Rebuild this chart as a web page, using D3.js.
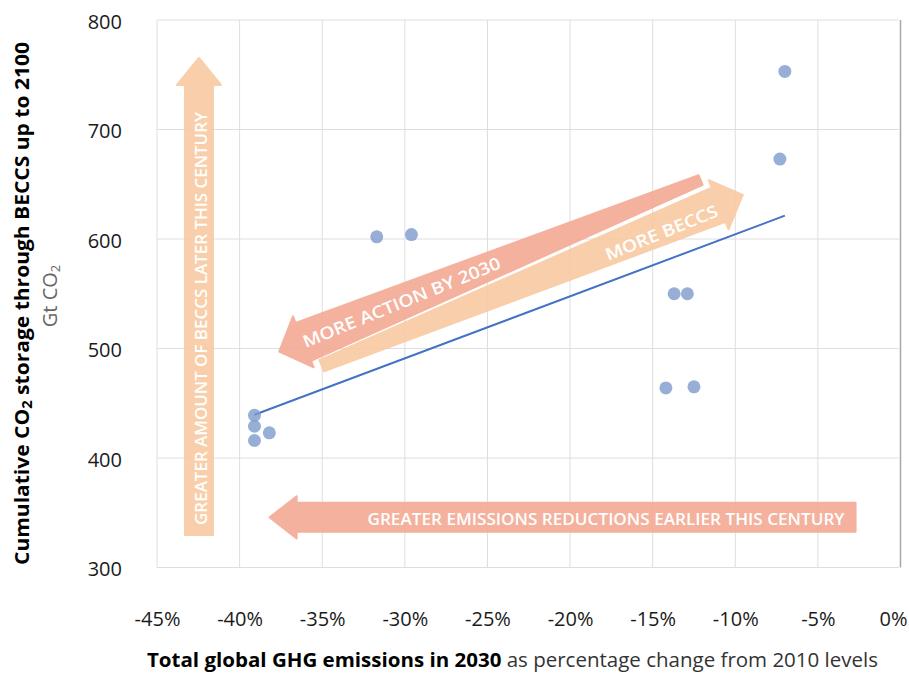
<!DOCTYPE html>
<html>
<head>
<meta charset="utf-8">
<script src="https://cdn.jsdelivr.net/npm/d3@7"></script>
<style>
  body { margin: 0; background: #fff; }
  svg text { font-family: "Open Sans", "Noto Sans", sans-serif; }
</style>
</head>
<body>
<svg id="chart"></svg>
<script>
// Scenario values
const emissionsChange2030 = [-39.1, -39.1, -39.1, -38.2, -31.7, -29.6, -13.7, -12.9, -14.2, -12.5, -7.3, -7.0];
const beccsStorage2100 = [439, 429, 416, 423, 602, 604, 550, 550, 464, 465, 673, 753];

// Trend line end points
const trendEmissions = [-39.1, -7.0];
const trendStorage = [439.5, 621.3];

const xTickValues = [-45, -40, -35, -30, -25, -20, -15, -10, -5, 0];
const yTickValues = [300, 400, 500, 600, 700, 800];

// Annotation arrows, anchored in data units (tail -> tip)
const arrowNotes = [
    { label: 'GREATER AMOUNT OF BECCS LATER THIS CENTURY', tail: [-42.46, 329.7], tip: [-42.46, 765.3],
      w0: 28, w1: 28, head: 27, headW: 44, fill: '#f8cba3', at: 0.454, shift: 2.5, len: 413, size: 16 },
    { label: 'GREATER EMISSIONS REDUCTIONS EARLIER THIS CENTURY', tail: [-2.72, 345.8], tip: [-38.18, 345.8],
      w0: 29, w1: 29, head: 27, headW: 42, fill: '#f4ab95', at: 0.426, shift: 1.6, len: 477, size: 17 },
    { label: 'MORE ACTION BY 2030', tail: [-12.1, 653.9], tip: [-37.6, 497.1],
      w0: 10.5, w1: 41, head: 26, headW: 55, fill: '#f4ab95', at: 0.71, shift: 0, len: 212, size: 17 },
    { label: 'MORE BECCS', tail: [-35.03, 484.2], tip: [-9.55, 640.2],
      w0: 12, w1: 37, head: 26, headW: 53, fill: '#f8cba3', at: 0.803, shift: 4, len: 120, size: 17 }
];

class BeccsScatter {

    constructor(_config) {
        this.config = {
            parentElement: _config.parentElement,
            width: _config.width || 909,
            height: _config.height || 673,
            margin: _config.margin || { top: 20, right: 8.5, bottom: 105.5, left: 157 }
        };
        this.initVis();
    }

    initVis() {
        let vis = this;
        const m = vis.config.margin;
        vis.innerWidth = vis.config.width - m.left - m.right;
        vis.innerHeight = vis.config.height - m.top - m.bottom;

        vis.svg = d3.select(vis.config.parentElement)
            .attr('width', vis.config.width)
            .attr('height', vis.config.height);

        vis.chart = vis.svg.append('g')
            .attr('transform', `translate(${m.left},${m.top})`);

        vis.xScale = d3.scaleLinear().domain([-45, 0]).range([0, vis.innerWidth]);
        vis.yScale = d3.scaleLinear().domain([300, 800]).range([vis.innerHeight, 0]);

        vis.renderVis();
    }

    // tapered arrow outline in pixel space
    arrowPath(a) {
        let vis = this;
        const x0 = vis.xScale(a.tail[0]), y0 = vis.yScale(a.tail[1]);
        const x1 = vis.xScale(a.tip[0]), y1 = vis.yScale(a.tip[1]);
        const L = Math.hypot(x1 - x0, y1 - y0);
        const ux = (x1 - x0) / L, uy = (y1 - y0) / L;
        const nx = -uy, ny = ux;
        const bx = x1 - ux * a.head, by = y1 - uy * a.head;
        const pts = [
            [x0 + nx * a.w0 / 2, y0 + ny * a.w0 / 2],
            [bx + nx * a.w1 / 2, by + ny * a.w1 / 2],
            [bx + nx * a.headW / 2, by + ny * a.headW / 2],
            [x1, y1],
            [bx - nx * a.headW / 2, by - ny * a.headW / 2],
            [bx - nx * a.w1 / 2, by - ny * a.w1 / 2],
            [x0 - nx * a.w0 / 2, y0 - ny * a.w0 / 2]
        ];
        return 'M' + pts.map(p => p.join(',')).join('L') + 'Z';
    }

    renderVis() {
        let vis = this;

        // Gridlines
        vis.chart.append('g').selectAll('line.vgrid')
            .data(xTickValues)
            .join('line')
            .attr('x1', d => vis.xScale(d)).attr('x2', d => vis.xScale(d))
            .attr('y1', 0).attr('y2', vis.innerHeight)
            .attr('stroke', d => d === 0 ? '#a8a8a8' : '#dedede')
            .attr('stroke-width', d => d === 0 ? 1.5 : 1);

        vis.chart.append('g').selectAll('line.hgrid')
            .data(yTickValues)
            .join('line')
            .attr('x1', 0).attr('x2', vis.xScale(-0.1))
            .attr('y1', d => vis.yScale(d)).attr('y2', d => vis.yScale(d))
            .attr('stroke', '#dedede');

        // Axes (labels only)
        const xAxis = d3.axisBottom(vis.xScale).tickValues(xTickValues)
            .tickSize(0).tickPadding(44).tickFormat(d => d + '%');
        const yAxis = d3.axisLeft(vis.yScale).tickValues(yTickValues)
            .tickSize(0).tickPadding(35);

        const xg = vis.chart.append('g')
            .attr('transform', `translate(0,${vis.innerHeight})`)
            .call(xAxis);
        const yg = vis.chart.append('g').call(yAxis);
        [xg, yg].forEach(g => {
            g.select('.domain').remove();
            g.selectAll('text')
                .style('font-family', '"Open Sans", sans-serif')
                .attr('font-size', 20)
                .attr('fill', '#1a1a1a');
        });
        yg.selectAll('text').attr('dy', '0.42em');
        // last label sits against the right edge, keep it inside
        xg.selectAll('.tick').filter(d => d === 0).select('text')
            .attr('text-anchor', 'end')
            .attr('x', vis.config.width - vis.config.margin.left - vis.xScale(0) - 2);

        // Annotation arrows
        const notes = vis.chart.append('g').attr('class', 'notes');
        notes.selectAll('path')
            .data(arrowNotes)
            .join('path')
            .attr('d', d => vis.arrowPath(d))
            .attr('fill', d => d.fill)
            .attr('stroke', d => d.fill)
            .attr('stroke-width', 2)
            .attr('stroke-linejoin', 'round')
            .attr('opacity', 0.92);

        notes.selectAll('text')
            .data(arrowNotes)
            .join('text')
            .attr('transform', d => {
                const x0 = vis.xScale(d.tail[0]), y0 = vis.yScale(d.tail[1]);
                const x1 = vis.xScale(d.tip[0]), y1 = vis.yScale(d.tip[1]);
                const cx = x0 + (x1 - x0) * d.at, cy = y0 + (y1 - y0) * d.at;
                let ang = Math.atan2(y1 - y0, x1 - x0) * 180 / Math.PI;
                if (ang > 90) ang -= 180;
                if (ang < -90) ang += 180;
                return `translate(${cx},${cy}) rotate(${ang}) translate(0,${d.shift})`;
            })
            .attr('text-anchor', 'middle')
            .attr('dominant-baseline', 'central')
            .attr('font-size', d => d.size)
            .attr('font-weight', 600)
            .attr('fill', '#fff')
            .attr('textLength', d => d.len)
            .attr('lengthAdjust', 'spacingAndGlyphs')
            .text(d => d.label);

        // Trend line
        vis.chart.append('path')
            .datum(d3.zip(trendEmissions, trendStorage))
            .attr('d', d3.line().x(d => vis.xScale(d[0])).y(d => vis.yScale(d[1])))
            .attr('fill', 'none')
            .attr('stroke', '#4472c4')
            .attr('stroke-width', 2);

        // Scenario points
        vis.chart.append('g').selectAll('circle')
            .data(d3.zip(emissionsChange2030, beccsStorage2100))
            .join('circle')
            .attr('cx', d => vis.xScale(d[0]))
            .attr('cy', d => vis.yScale(d[1]))
            .attr('r', 6.5)
            .attr('fill', '#7d9bcc')
            .attr('fill-opacity', 0.8);

        // Y axis title
        const yTitle = vis.svg.append('text')
            .attr('transform', 'translate(29,303.5) rotate(-90)')
            .attr('text-anchor', 'middle')
            .attr('font-size', 20)
            .attr('font-weight', 700)
            .attr('fill', '#000')
            .attr('textLength', 523)
            .attr('lengthAdjust', 'spacingAndGlyphs');
        yTitle.append('tspan').text('Cumulative CO');
        yTitle.append('tspan').attr('baseline-shift', '-20%').attr('font-size', 14).text('2');
        yTitle.append('tspan').text(' storage through BECCS up to 2100');

        const yUnit = vis.svg.append('text')
            .attr('transform', 'translate(57,296) rotate(-90)')
            .attr('text-anchor', 'middle')
            .attr('font-size', 20)
            .attr('fill', '#666');
        yUnit.append('tspan').text('Gt CO');
        yUnit.append('tspan').attr('baseline-shift', '-20%').attr('font-size', 13).text('2');

        // X axis title
        const xTitle = vis.svg.append('text')
            .attr('x', 512.5)
            .attr('y', 667)
            .attr('text-anchor', 'middle')
            .attr('font-size', 20)
            .attr('fill', '#000')
            .attr('textLength', 731)
            .attr('lengthAdjust', 'spacingAndGlyphs');
        xTitle.append('tspan').attr('font-weight', 700).text('Total global GHG emissions in 2030');
        xTitle.append('tspan').attr('fill', '#333').text(' as percentage change from 2010 levels');
    }
}

new BeccsScatter({ parentElement: '#chart' });
</script>
</body>
</html>
